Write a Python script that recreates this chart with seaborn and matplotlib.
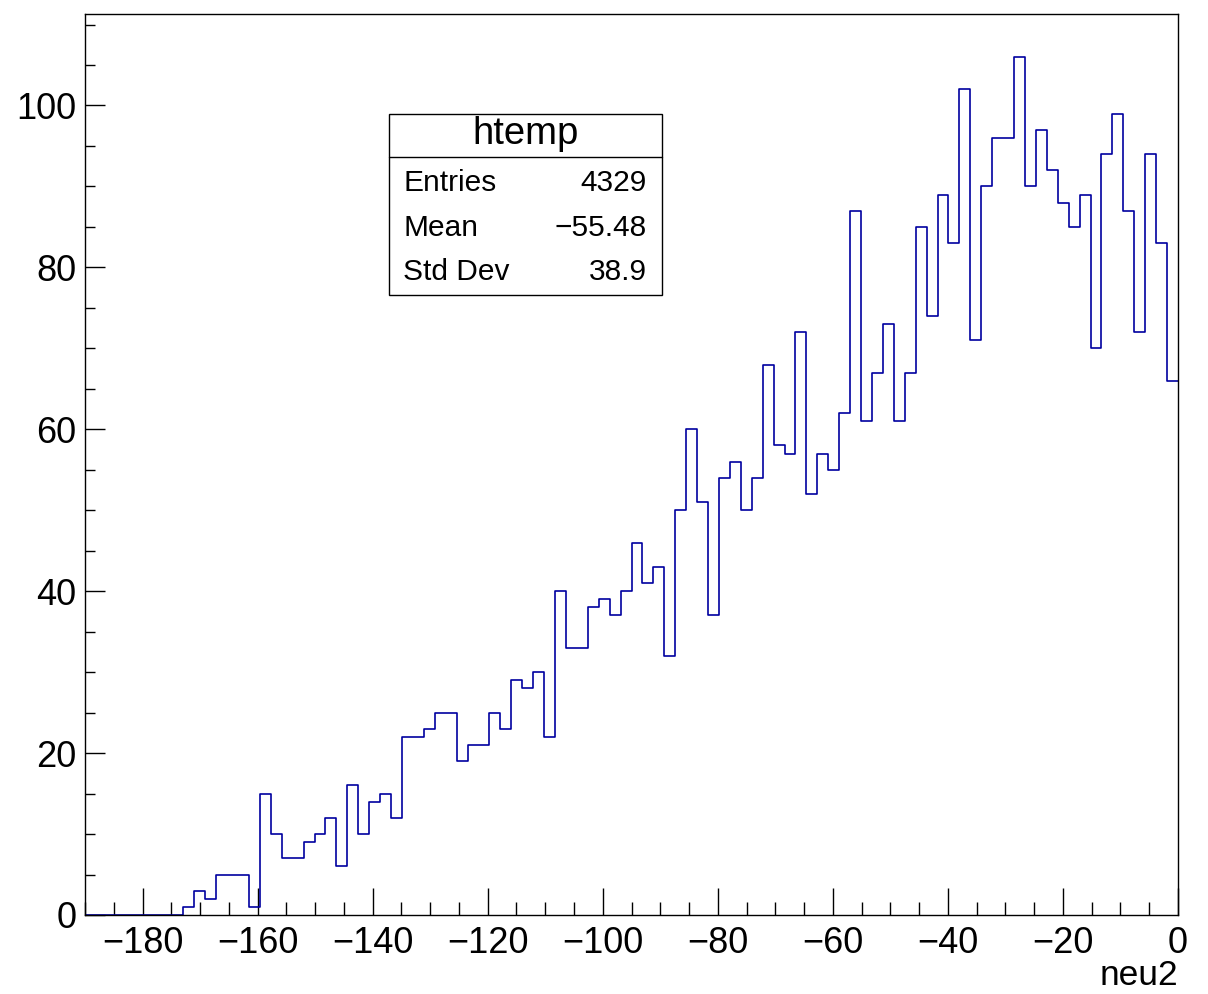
import numpy as np
import pandas as pd
import matplotlib
matplotlib.use("Agg")
import matplotlib.pyplot as plt
from matplotlib.patches import Rectangle
from matplotlib.lines import Line2D
from matplotlib.ticker import MultipleLocator
import seaborn as sns

# ---- data ----
x_min = -190.0
x_max = 0.0
n_bins = 100
counts = [0, 0, 0, 0, 0, 0, 0, 0, 0, 1,
          3, 2, 5, 5, 5, 1, 15, 10, 7, 7,
          9, 10, 12, 6, 16, 10, 14, 15, 12, 22,
          22, 23, 25, 25, 19, 21, 21, 25, 23, 29,
          28, 30, 22, 40, 33, 33, 38, 39, 37, 40,
          46, 41, 43, 32, 50, 60, 51, 37, 54, 56,
          50, 54, 68, 58, 57, 72, 52, 57, 55, 62,
          87, 61, 67, 73, 61, 67, 85, 74, 89, 83,
          102, 71, 90, 96, 96, 106, 90, 97, 92, 88,
          85, 89, 70, 94, 99, 87, 72, 94, 83, 66]
hist_title = "htemp"
stat_names = ["Entries", "Mean", "Std Dev"]
stat_values = ["4329", "\u221255.48", "38.9"]
x_label = "neu2"

edges = np.linspace(x_min, x_max, n_bins + 1)
centers = 0.5 * (edges[:-1] + edges[1:])
df = pd.DataFrame({"x": centers, "w": counts})

sns.set_theme(style="white")
plt.rcParams["font.family"] = ["Liberation Sans", "DejaVu Sans"]
plt.rcParams["axes.unicode_minus"] = True

W, H = 1208, 994
fig = plt.figure(figsize=(W / 100, H / 100), dpi=100)
fig.patch.set_facecolor("white")
ax = fig.add_axes([85 / W, 1 - 915 / H, (1178 - 85) / W, (915 - 14) / H])
ax.set_facecolor("white")

sns.histplot(data=df, x="x", weights="w", bins=n_bins, binrange=(x_min, x_max),
             element="step", fill=False, color="#0000a0", linewidth=1.2, ax=ax)

ax.set_xlim(x_min, x_max)
ax.set_ylim(0, 111.3)

ax.xaxis.set_major_locator(MultipleLocator(20))
ax.xaxis.set_minor_locator(MultipleLocator(5))
ax.yaxis.set_major_locator(MultipleLocator(20))
ax.yaxis.set_minor_locator(MultipleLocator(5))

ax.tick_params(axis="x", which="major", direction="in", length=19.4, width=1.0,
               color="black", labelsize=26, pad=8, bottom=True, top=False)
ax.tick_params(axis="x", which="minor", direction="in", length=9.4, width=1.0,
               color="black", bottom=True, top=False)
ax.tick_params(axis="y", which="major", direction="in", length=14.4, width=1.0,
               color="black", labelsize=26, pad=6, left=True, right=False)
ax.tick_params(axis="y", which="minor", direction="in", length=7.2, width=1.0,
               color="black", left=True, right=False)
for lab in ax.get_xticklabels() + ax.get_yticklabels():
    lab.set_color("black")

for sp in ax.spines.values():
    sp.set_visible(True)
    sp.set_color("black")
    sp.set_linewidth(1.0)

ax.set_ylabel("")
ax.set_xlabel("")
fig.text(1178 / W, 1 - 992 / H, x_label, ha="right", va="bottom",
         fontsize=25.5, color="black")

# ---- stats box ----
bx0, bx1 = 389 / W, 662 / W
by_top, by_bot = 1 - 114 / H, 1 - 295 / H
fig.patches.append(Rectangle((bx0, by_bot), bx1 - bx0, by_top - by_bot,
                             transform=fig.transFigure, facecolor="white",
                             edgecolor="black", linewidth=1.0, zorder=5))
fig.lines.append(Line2D([bx0, bx1], [1 - 157 / H, 1 - 157 / H],
                        transform=fig.transFigure, color="black",
                        linewidth=1.0, zorder=6))
fig.text((bx0 + bx1) / 2, 1 - 134 / H, hist_title, ha="center", va="center",
         fontsize=27.5, color="black", zorder=7)
row_y = [183, 228, 272]
for name, val, yy in zip(stat_names, stat_values, row_y):
    fig.text(403 / W, 1 - yy / H, name, ha="left", va="center",
             fontsize=21.5, color="black", zorder=7)
    fig.text(647 / W, 1 - yy / H, val, ha="right", va="center",
             fontsize=21.5, color="black", zorder=7)

fig.savefig("out.png", dpi=100, facecolor="white")
